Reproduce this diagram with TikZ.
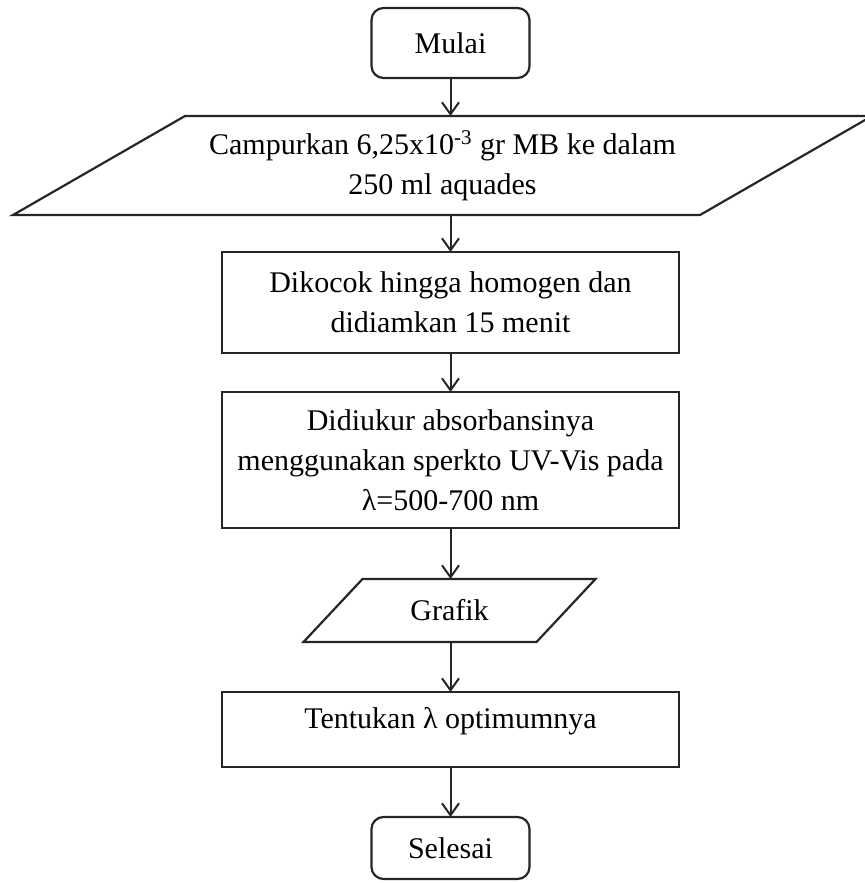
\documentclass[tikz,border=0pt]{standalone}
\usepackage{fontspec}
\setmainfont{Liberation Serif}
\usepackage{tikz}
\usetikzlibrary{arrows.meta, positioning}
\tikzset{
  terminal/.style = {rectangle, rounded corners=6pt, draw=black!85, line width=1.1pt,
                     minimum width=79pt, minimum height=35pt, inner sep=2pt, outer sep=0pt,
                     font=\fontsize{15}{20}\selectfont},
  process/.style  = {rectangle, draw=black!85, line width=1.1pt, minimum width=228.5pt,
                     inner sep=2pt, outer sep=0pt, align=center,
                     font=\fontsize{15}{20}\selectfont},
  iobox/.style    = {rectangle, inner sep=2pt, outer sep=0pt, align=center,
                     font=\fontsize{15}{20}\selectfont},
  iodraw/.style   = {draw=black!85, line width=1.1pt, line join=miter},
  flow/.style     = {-{Straight Barb[length=6pt, width=8.5pt]}, line width=1pt, draw=black!85},
}

\begin{document}
\begin{tikzpicture}[x=0.5pt, y=-0.5pt]
  \useasboundingbox (0,0) rectangle (865,883);
  \node[terminal] (mulai) at (450.5,43) {Mulai};
  \node[iobox, minimum width=343.5pt, minimum height=49.5pt,
        below=19pt of mulai, xshift=-4pt] (campur)
        {Campurkan 6,25x10\textsuperscript{-3} gr MB ke dalam\\250 ml aquades};
  \node[process, minimum height=50.5pt, below=18.5pt of campur, xshift=4pt] (kocok)
        {Dikocok hingga homogen dan\\didiamkan 15 menit};
  \node[process, minimum height=68pt, below=19.5pt of kocok] (ukur)
        {Didiukur absorbansinya\\menggunakan sperkto UV-Vis pada\\λ=500-700 nm};
  \node[iobox, minimum width=116.5pt, minimum height=31.5pt,
        below=25.5pt of ukur, xshift=-0.5pt] (grafik) {Grafik};
  \node[process, minimum height=37.5pt, text depth=12pt,
        below=25pt of grafik, xshift=0.5pt] (tentukan) {Tentukan λ optimumnya};
  \node[terminal, minimum height=31pt, below=25pt of tentukan] (selesai) {Selesai};

  % data shapes
  \draw[iodraw] ([xshift=-43pt]campur.south west) -- ([xshift=-43pt]campur.south east)
    -- ([xshift=43pt]campur.north east) -- ([xshift=43pt]campur.north west) -- cycle;
  \draw[iodraw] ([xshift=-14.75pt]grafik.south west) -- ([xshift=-14.75pt]grafik.south east)
    -- ([xshift=14.75pt]grafik.north east) -- ([xshift=14.75pt]grafik.north west) -- cycle;

  \draw[flow] (mulai.south) -- (mulai.south |- campur.north);
  \draw[flow] (kocok.north |- campur.south) -- (kocok.north);
  \draw[flow] (kocok) -- (ukur);
  \draw[flow] (ukur.south) -- (ukur.south |- grafik.north);
  \draw[flow] (grafik.south -| tentukan.north) -- (tentukan.north);
  \draw[flow] (tentukan) -- (selesai);
\end{tikzpicture}
\end{document}
